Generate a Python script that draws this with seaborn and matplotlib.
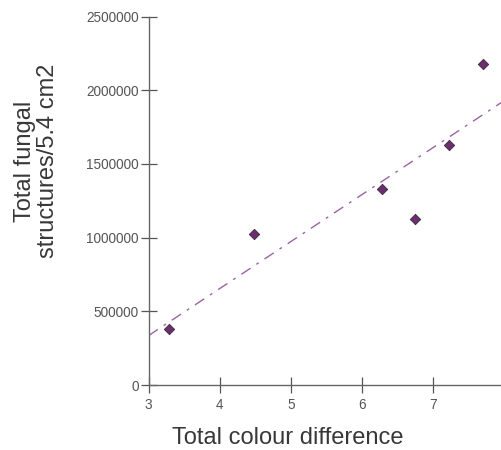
import matplotlib
matplotlib.use('Agg')
import matplotlib.pyplot as plt
import seaborn as sns
import pandas as pd

# datos
colour_diff = [3.29, 4.48, 6.28, 6.75, 7.23, 7.70]
fungal_structures = [378000, 1026000, 1330000, 1124000, 1626000, 2178000]

x_ticks = [3, 4, 5, 6, 7, 8]
y_ticks = [0, 500000, 1000000, 1500000, 2000000, 2500000]

df = pd.DataFrame({'diff': colour_diff, 'fungal': fungal_structures})

sns.set_style('white')
plt.rcParams['font.family'] = ['Liberation Sans', 'DejaVu Sans']

fig = plt.figure(figsize=(5.02, 4.5), dpi=100)
ax = fig.add_axes([0.296, 0.1444, 0.708, 0.8189])
ax.set_xlim(3, 8)
ax.set_ylim(0, 2500000)

# línea de tendencia
sns.regplot(data=df, x='diff', y='fungal', ax=ax, ci=None, truncate=False,
            scatter=False,
            line_kws={'color': '#9a64a0', 'linewidth': 1.0,
                      'linestyle': (0, (8, 5, 2, 5))})

# puntos
sns.scatterplot(data=df, x='diff', y='fungal', ax=ax, marker='D', s=28,
                color='#6b2f6e', edgecolor='#3a2a3a', linewidth=0.6,
                zorder=3)

ax.set_xticks(x_ticks)
ax.set_yticks(y_ticks)
ax.set_yticklabels([str(v) for v in y_ticks])

for side in ['top', 'right']:
    ax.spines[side].set_visible(False)
for side in ['left', 'bottom']:
    ax.spines[side].set_color('#666666')
    ax.spines[side].set_linewidth(1.0)

ax.tick_params(axis='both', direction='inout', length=11.5, width=0.9,
               color='#555555', labelcolor='#555555', labelsize=9.8,
               bottom=True, left=True)
ax.tick_params(axis='y', pad=1.5)
ax.tick_params(axis='x', pad=3.5)

ax.set_xlabel('Total colour difference', fontsize=17, color='#383838',
              va='center')
ax.xaxis.set_label_coords(0.392, -0.144)
ax.set_ylabel('Total fungal\nstructures/5.4 cm2', fontsize=17,
              color='#383838', va='center', linespacing=1.05)
ax.yaxis.set_label_coords(-0.316, 0.608)

fig.savefig('out.png', dpi=100)
